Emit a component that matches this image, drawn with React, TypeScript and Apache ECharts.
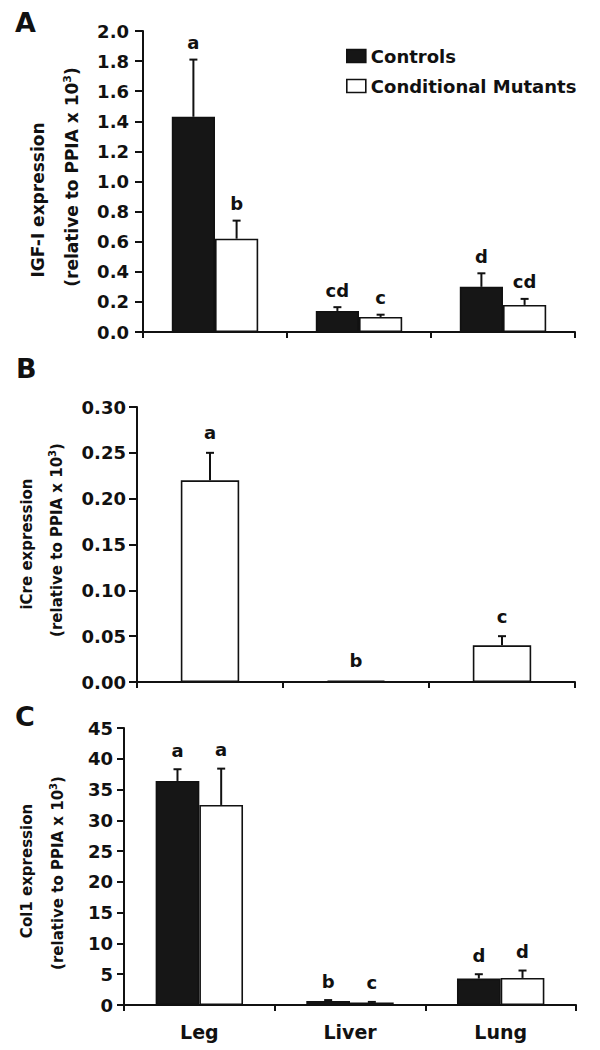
import React, { useEffect, useRef } from "react";
import * as echarts from "echarts";

const categories = ["Leg", "Liver", "Lung"];

// Panel A: IGF-I
const igfControls = [1.43, 0.14, 0.3];
const igfControlsErr = [0.38, 0.025, 0.09];
const igfControlsLetters = ["a", "cd", "d"];
const igfMutants = [0.62, 0.1, 0.18];
const igfMutantsErr = [0.12, 0.015, 0.04];
const igfMutantsLetters = ["b", "c", "cd"];
const igfTicks = { min: 0, max: 2, interval: 0.2, decimals: 1 };

// Panel B: iCre
const icreMutants = [0.22, 0.0015, 0.04];
const icreMutantsErr = [0.03, 0, 0.01];
const icreMutantsLetters = ["a", "b", "c"];
const icreTicks = { min: 0, max: 0.3, interval: 0.05, decimals: 2 };

// Panel C: Col1
const col1Controls = [36.4, 0.65, 4.3];
const col1ControlsErr = [1.9, 0.15, 0.7];
const col1ControlsLetters = ["a", "b", "d"];
const col1Mutants = [32.5, 0.4, 4.4];
const col1MutantsErr = [5.9, 0.1, 1.2];
const col1MutantsLetters = ["a", "c", "d"];
const col1Ticks = { min: 0, max: 45, interval: 5, decimals: 0 };

const FONT = "DejaVu Sans";
const INK = "#111";
const BLACK = "#161616";

function errSeries(
  grid: number,
  values: number[],
  errs: number[],
  letters: string[],
  pos: number,
  n: number,
  gap: number,
  lift: number
) {
  return {
    type: "custom",
    xAxisIndex: grid,
    yAxisIndex: grid,
    silent: true,
    z: 10,
    data: values.map((v, i) => [i, v, v + errs[i]]),
    renderItem: (params: any, api: any) => {
      const i = api.value(0);
      const band = api.size([1, 0])[0];
      const bw = (band * (1 - gap)) / n;
      const cx = api.coord([i, 0])[0] + (pos - (n - 1) / 2) * bw;
      const yv = api.coord([i, api.value(1)])[1];
      const ye = api.coord([i, api.value(2)])[1];
      const children: any[] = [];
      if (ye < yv - 0.5) {
        children.push({
          type: "line",
          shape: { x1: cx, y1: yv, x2: cx, y2: ye },
          style: { stroke: INK, lineWidth: 2 },
        });
        children.push({
          type: "line",
          shape: { x1: cx - 4, y1: ye, x2: cx + 4, y2: ye },
          style: { stroke: INK, lineWidth: 2 },
        });
      }
      children.push({
        type: "text",
        x: cx,
        y: Math.min(ye, yv) - lift,
        style: {
          text: letters[params.dataIndex],
          fontFamily: FONT,
          fontWeight: "bold",
          fontSize: 18,
          fill: INK,
          align: "center",
          verticalAlign: "bottom",
        },
      });
      return { type: "group", children };
    },
  };
}

function barSeries(grid: number, name: string, values: number[], fill: string, gap: string) {
  return {
    type: "bar",
    name,
    xAxisIndex: grid,
    yAxisIndex: grid,
    data: values,
    barGap: "0%",
    barCategoryGap: gap,
    itemStyle: { color: fill, borderColor: INK, borderWidth: 1.6 },
  };
}

function yAxisOf(grid: number, t: any, margin: number, tick: number) {
  return {
    type: "value",
    gridIndex: grid,
    min: t.min,
    max: t.max,
    interval: t.interval,
    splitLine: { show: false },
    axisLine: { show: true, lineStyle: { color: INK, width: 2 } },
    axisTick: { show: true, length: tick, lineStyle: { color: INK, width: 2 } },
    axisLabel: {
      fontFamily: FONT,
      fontWeight: "bold",
      fontSize: 18,
      color: INK,
      margin,
      formatter: (v: number) => v.toFixed(t.decimals),
    },
  };
}

function xAxisOf(grid: number, showLabel: boolean) {
  return {
    type: "category",
    gridIndex: grid,
    data: categories,
    axisLine: { show: true, lineStyle: { color: INK, width: 2 } },
    axisTick: { show: true, length: 6, lineStyle: { color: INK, width: 2 } },
    axisLabel: {
      show: showLabel,
      fontFamily: FONT,
      fontWeight: "bold",
      fontSize: 19,
      color: INK,
      margin: 17,
    },
  };
}

function vText(x: number, y: number, text: string, size: number, rich?: boolean) {
  const style: any = {
    text,
    fontFamily: FONT,
    fontWeight: "bold",
    fontSize: size,
    fill: INK,
    align: "center",
    verticalAlign: "middle",
  };
  if (rich) {
    style.rich = {
      a: { fontFamily: FONT, fontWeight: "bold", fontSize: size, fill: INK, lineHeight: size + 4 },
      s: { fontFamily: FONT, fontWeight: "bold", fontSize: Math.round(size * 0.65), fill: INK, verticalAlign: "top", lineHeight: size + 4 },
    };
  }
  return { type: "text", x, y, rotation: Math.PI / 2, style };
}

function letter(x: number, y: number, text: string) {
  return {
    type: "text",
    x,
    y,
    style: {
      text,
      fontFamily: FONT,
      fontWeight: "bold",
      fontSize: 27,
      fill: INK,
      align: "left",
      verticalAlign: "middle",
    },
  };
}

const relText = "{a|(relative to PPIA x 10}{s|3}{a|)}";

export default function App() {
  const ref = useRef<HTMLDivElement>(null);
  useEffect(() => {
    if (!ref.current) return;
    const chart = echarts.init(ref.current, undefined, { renderer: "svg" });
    const option: any = {
      animation: false,
      backgroundColor: "#fff",
      grid: [
        { left: 143, top: 31, width: 432, height: 301 },
        { left: 137, top: 407, width: 438, height: 275 },
        { left: 124, top: 728, width: 452, height: 277 },
      ],
      legend: {
        orient: "vertical",
        left: 341,
        top: 41,
        itemWidth: 19,
        itemHeight: 13,
        itemGap: 10,
        itemStyle: { borderColor: INK, borderWidth: 1.6 },
        textStyle: { fontFamily: FONT, fontWeight: "bold", fontSize: 18, color: INK, lineHeight: 20 },
        data: [
          { name: "Controls", icon: "rect" },
          { name: "Conditional Mutants", icon: "rect" },
        ],
        selectedMode: false,
      },
      xAxis: [xAxisOf(0, false), xAxisOf(1, false), xAxisOf(2, true)],
      yAxis: [yAxisOf(0, igfTicks, 14, 8), yAxisOf(1, icreTicks, 11, 8), yAxisOf(2, col1Ticks, 11, 7)],
      series: [
        barSeries(0, "Controls", igfControls, BLACK, "40%"),
        barSeries(0, "Conditional Mutants", igfMutants, "#fff", "40%"),
        errSeries(0, igfControls, igfControlsErr, igfControlsLetters, 0, 2, 0.4, 8),
        errSeries(0, igfMutants, igfMutantsErr, igfMutantsLetters, 1, 2, 0.4, 8),
        barSeries(1, "Conditional Mutants", icreMutants, "#fff", "60%"),
        errSeries(1, icreMutants, icreMutantsErr, icreMutantsLetters, 0, 1, 0.6, 11),
        barSeries(2, "Controls", col1Controls, BLACK, "42%"),
        barSeries(2, "Conditional Mutants", col1Mutants, "#fff", "42%"),
        errSeries(2, col1Controls, col1ControlsErr, col1ControlsLetters, 0, 2, 0.42, 10),
        errSeries(2, col1Mutants, col1MutantsErr, col1MutantsLetters, 1, 2, 0.42, 10),
      ],
      graphic: [
        letter(15, 22, "A"),
        letter(16, 368, "B"),
        letter(15, 716, "C"),
        vText(38, 200, "IGF-I expression", 17),
        vText(72, 177, relText, 17, true),
        vText(27, 544, "iCre expression", 15),
        vText(57, 540, relText, 15, true),
        vText(27, 871, "Col1 expression", 15),
        vText(58, 873, relText, 15, true),
      ],
    };
    chart.setOption(option);
    return () => chart.dispose();
  }, []);
  return (
    <div
      ref={ref}
      style={{ position: "absolute", left: 0, top: 0, width: 600, height: 1050, background: "#fff" }}
    />
  );
}
